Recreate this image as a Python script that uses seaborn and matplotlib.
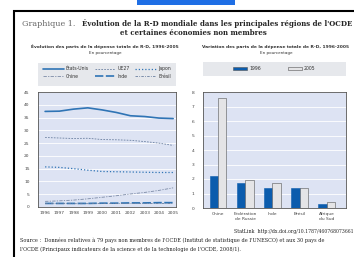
import matplotlib
matplotlib.use("Agg")
import matplotlib.pyplot as plt
import seaborn as sns
import pandas as pd
from matplotlib.patches import Rectangle

years = [1996, 1997, 1998, 1999, 2000, 2001, 2002, 2003, 2004, 2005]
etats_unis = [37.4, 37.5, 38.3, 38.8, 38.0, 37.0, 35.7, 35.4, 34.8, 34.6]
ue27 = [27.2, 27.0, 26.8, 26.9, 26.4, 26.3, 26.1, 25.6, 25.0, 24.1]
japon = [15.7, 15.5, 15.0, 14.4, 13.9, 13.8, 13.7, 13.6, 13.5, 13.5]
chine = [2.2, 2.4, 2.7, 3.2, 3.8, 4.4, 5.1, 5.7, 6.5, 7.5]
inde = [1.4, 1.4, 1.4, 1.4, 1.5, 1.5, 1.6, 1.6, 1.7, 1.7]
bresil = [1.4, 1.4, 1.3, 1.3, 1.4, 1.4, 1.4, 1.4, 1.4, 1.4]

pays = ["Chine", "Fédération\nde Russie", "Inde", "Brésil", "Afrique\ndu Sud"]
val_1996 = [2.2, 1.7, 1.4, 1.4, 0.25]
val_2005 = [7.6, 1.9, 1.7, 1.4, 0.4]

W, H = 354, 257
fig = plt.figure(figsize=(W / 100, H / 100), dpi=100)
fig.patch.set_facecolor("white")

def fx(px):
    return px / W

def fy(py):
    return 1 - py / H

sns.set_style("white")
plt.rcParams["font.family"] = ["DejaVu Sans"]

bg = "#dde3f3"
blue = "#2f74b5"
legbg = "#e6e8ec"

# top blue bar and frame
fig.patches.append(Rectangle((fx(137), fy(5)), fx(98), 5 / H, transform=fig.transFigure,
                             facecolor="#1f6fe5", edgecolor="none", zorder=-1))
fig.patches.append(Rectangle((fx(14), fy(262)), fx(360), 251 / H, transform=fig.transFigure,
                             facecolor="none", edgecolor="black", linewidth=1.5, zorder=-1))
# legend backgrounds
fig.patches.append(Rectangle((fx(38), fy(86)), fx(138), 23 / H, transform=fig.transFigure,
                             facecolor=legbg, edgecolor="none", zorder=-1))
fig.patches.append(Rectangle((fx(203), fy(76)), fx(143), 14 / H, transform=fig.transFigure,
                             facecolor=legbg, edgecolor="none", zorder=-1))

# titles
fig.text(fx(22), fy(24), "Graphique 1.", ha="left", va="center", fontsize=5.8,
         family="DejaVu Serif", color="#666666")
fig.text(fx(352), fy(24), "Évolution de la R-D mondiale dans les principales régions de l'OCDE",
         ha="right", va="center", fontsize=5.0, family="DejaVu Serif", weight="bold")
fig.text(fx(193), fy(33), "et certaines économies non membres", ha="center", va="center",
         fontsize=5.0, family="DejaVu Serif", weight="bold")

fig.text(fx(105), fy(47), "Évolution des parts de la dépense totale de R-D, 1996-2005",
         ha="center", va="center", fontsize=3.2, weight="bold", color="#333333")
fig.text(fx(105), fy(53), "En pourcentage", ha="center", va="center", fontsize=3.0, color="#333333")
fig.text(fx(276), fy(47), "Variation des parts de la dépense totale de R-D, 1996-2005",
         ha="center", va="center", fontsize=3.2, weight="bold", color="#333333")
fig.text(fx(276), fy(53), "En pourcentage", ha="center", va="center", fontsize=3.0, color="#333333")

# ---- left line chart ----
ax1 = fig.add_axes([fx(38), fy(207), fx(138), (207 - 92) / H])
ax1.set_facecolor(bg)
series = [
    ("États-Unis", etats_unis, dict(color=blue, lw=1.2, ls="-")),
    ("UE27", ue27, dict(color="#6a7fa0", lw=0.6, ls=(0, (2, 1.5)))),
    ("Japon", japon, dict(color=blue, lw=0.9, ls=(0, (1, 1.6)))),
    ("Chine", chine, dict(color="#7b8aa6", lw=0.6, ls=(0, (4, 1.5, 1.5, 1.5)))),
    ("Inde", inde, dict(color=blue, lw=1.2, ls=(0, (5, 1.5)))),
    ("Brésil", bresil, dict(color="#6a7fa0", lw=0.6, ls=(0, (3, 1.5, 1, 1.5)))),
]
for name, vals, kw in series:
    df = pd.DataFrame({"year": years, "val": vals})
    sns.lineplot(data=df, x="year", y="val", ax=ax1, label=name, **kw)
ax1.set_ylim(0, 45)
ax1.set_xlim(1995.5, 2005.2)
ax1.set_yticks(range(0, 46, 5))
ax1.set_xticks(years)
ax1.set_xticklabels([str(y) for y in years], fontsize=3.2, color="#444444")
ax1.tick_params(axis="y", labelsize=3.2, colors="#444444", length=0, pad=6)
ax1.tick_params(axis="x", length=0, pad=3)
ax1.grid(axis="y", color="white", lw=0.6)
ax1.set_axisbelow(True)
ax1.set_xlabel("")
ax1.set_ylabel("")
for s in ax1.spines.values():
    s.set_color("#555555")
    s.set_linewidth(0.6)
h, l = ax1.get_legend_handles_labels()
order = [0, 3, 1, 4, 2, 5]
leg1 = ax1.legend([h[i] for i in order], [l[i] for i in order],
                  loc="center", bbox_to_anchor=(0.5, 1.17), ncol=3,
                  fontsize=3.3, frameon=False, handlelength=4.5, columnspacing=1.2,
                  labelspacing=0.6, handletextpad=0.5)
for t in leg1.get_texts():
    t.set_color("#333333")

# ---- right bar chart ----
ax2 = fig.add_axes([fx(203), fy(208), fx(143), (208 - 92) / H])
ax2.set_facecolor(bg)
bdf = pd.DataFrame({
    "pays": pays * 2,
    "val": val_1996 + val_2005,
    "annee": ["1996"] * len(pays) + ["2005"] * len(pays),
})
sns.barplot(data=bdf, x="pays", y="val", hue="annee", ax=ax2,
            palette={"1996": "#0b5cad", "2005": "#e4e4e6"}, width=0.62,
            edgecolor="#555555", linewidth=0.4, saturation=1)
for p in ax2.patches[:len(pays)]:
    p.set_edgecolor("#0b5cad")
ax2.set_xlim(-0.55, 4.7)
ax2.set_ylim(0, 8)
ax2.set_yticks(range(0, 9))
ax2.tick_params(axis="y", labelsize=3.2, colors="#444444", length=0, pad=6)
ax2.tick_params(axis="x", labelsize=3.2, colors="#444444", length=0, pad=3)
ax2.grid(axis="y", color="white", lw=0.6)
ax2.set_axisbelow(True)
ax2.set_xlabel("")
ax2.set_ylabel("")
for s in ax2.spines.values():
    s.set_color("#555555")
    s.set_linewidth(0.6)
leg2 = ax2.legend(loc="center", bbox_to_anchor=(0.5, 1.20), ncol=2,
                  fontsize=3.3, frameon=False, handlelength=3.0, handleheight=0.8,
                  columnspacing=6, handletextpad=0.4)
for t in leg2.get_texts():
    t.set_color("#333333")

# footer
fig.text(fx(354), fy(232), "StatLink  http://dx.doi.org/10.1787/460768073661", ha="right",
         va="center", fontsize=3.3, family="DejaVu Serif", color="#222222")
fig.text(fx(20), fy(240), "Source :  Données relatives à 79 pays non membres de l'OCDE (Institut de statistique de l'UNESCO) et aux 30 pays de",
         ha="left", va="center", fontsize=3.6, family="DejaVu Serif", color="#222222")
fig.text(fx(20), fy(249), "l'OCDE (Principaux indicateurs de la science et de la technologie de l'OCDE, 2008/1).",
         ha="left", va="center", fontsize=3.6, family="DejaVu Serif", color="#222222")

fig.savefig("out.png", dpi=100)
